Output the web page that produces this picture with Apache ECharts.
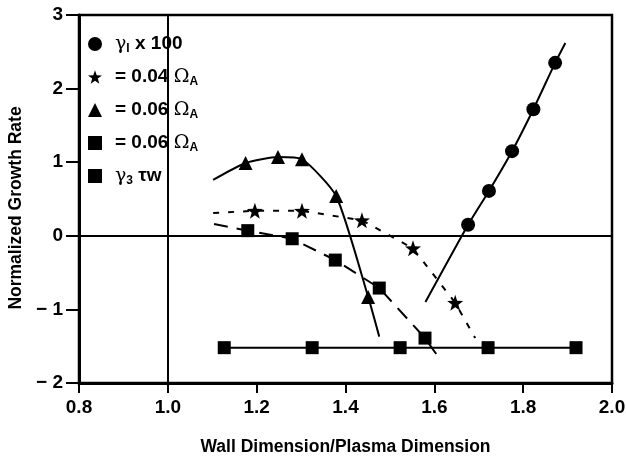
<!DOCTYPE html>
<html>
<head>
<meta charset="utf-8">
<script src="https://cdn.jsdelivr.net/npm/echarts@6/dist/echarts.min.js"></script>
<style>html,body{margin:0;padding:0;background:#fff;}#c{width:626px;height:466px;}</style>
</head>
<body>
<div id="c"></div>
<script>
// ---- data ----
const xTicks = [0.8, 1.0, 1.2, 1.4, 1.6, 1.8, 2.0];
const yTicks = [-2, -1, 0, 1, 2, 3];

const gammaPts = [[1.676, 0.15], [1.723, 0.61], [1.775, 1.15], [1.823, 1.72], [1.872, 2.35]];
const gammaEnds = [[1.580, -0.90], [1.895, 2.62]];

const starPts = [[1.196, 0.34], [1.302, 0.34], [1.437, 0.21], [1.552, -0.17], [1.647, -0.91]];
const starEnds = [[1.102, 0.31], [1.692, -1.39]];

const triPts = [[1.175, 0.99], [1.248, 1.07], [1.302, 1.04], [1.379, 0.54], [1.451, -0.83]];
const triEnds = [[1.102, 0.76], [1.476, -1.37]];

const sqDashPts = [[1.180, 0.07], [1.280, -0.04], [1.377, -0.33], [1.476, -0.71], [1.579, -1.39]];
const sqDashEnds = [[1.104, 0.16], [1.606, -1.62]];

const tauPts = [[1.127, -1.52], [1.325, -1.52], [1.523, -1.52], [1.721, -1.52], [1.919, -1.52]];

const refX = 1.0;
const refY = 0;

const legendLabels = {
  gamma: '{g0|γ}{s|I}{n| x 100}',
  star: '{n0|= 0.04 }{g|Ω}{s|A}',
  tri: '{n0|= 0.06 }{g|Ω}{s|A}',
  sqdash: '{n0|= 0.06 }{g|Ω}{s|A}',
  tau: '{g0|γ}{s|3}{n| τw}'
};

// ---- helpers ----
function starPath() {
  let d = '';
  for (let i = 0; i < 10; i++) {
    const r = i % 2 === 0 ? 50 : 20;
    const a = -Math.PI / 2 + i * Math.PI / 5;
    const x = (50 + r * Math.cos(a)).toFixed(2);
    const y = (50 + r * Math.sin(a)).toFixed(2);
    d += (i === 0 ? 'M' : 'L') + x + ',' + y;
  }
  return 'path://' + d + 'Z';
}
const STAR = starPath();

function build(pts, ends) {
  const out = pts.map(p => ({ value: p }));
  if (ends) {
    out.unshift({ value: ends[0], symbol: 'none' });
    out.push({ value: ends[1], symbol: 'none' });
  }
  return out;
}

const FONT = "'Liberation Sans', Arial, Helvetica, sans-serif";
const GREEK = "'DejaVu Serif', 'Liberation Serif', serif";

const chart = echarts.init(document.getElementById('c'), null, { renderer: 'canvas' });

const lineBase = { color: '#000', width: 2 };
const nStyle = { fontFamily: FONT, fontWeight: 'bold', fontSize: 19, color: '#000', lineHeight: 22 };
const gStyle = { fontFamily: GREEK, fontSize: 19, color: '#000', lineHeight: 22 };

chart.setOption({
  animation: false,
  backgroundColor: '#fff',
  grid: { left: 79, right: 14, top: 15, bottom: 83, containLabel: false, outerBoundsMode: 'none',
    show: true, borderColor: '#000', borderWidth: 2.5, backgroundColor: 'transparent' },
  xAxis: {
    type: 'value', min: 0.8, max: 2.0, interval: 0.2,
    name: 'Wall Dimension/Plasma Dimension', nameLocation: 'middle', nameGap: 55,
    nameTextStyle: { fontFamily: FONT, fontWeight: 'bold', fontSize: 17.5, color: '#000' },
    axisLine: { show: true, onZero: false, lineStyle: { color: '#000', width: 3 } },
    axisTick: { show: true, inside: false, length: 10, lineStyle: { color: '#000', width: 2 } },
    axisLabel: { fontFamily: FONT, fontWeight: 'bold', fontSize: 19, color: '#000', margin: 15,
      formatter: v => xTicks.some(t => Math.abs(t - v) < 1e-6) ? v.toFixed(1) : '' },
    splitLine: { show: false }
  },
  yAxis: {
    type: 'value', min: -2, max: 3, interval: 1,
    name: 'Normalized Growth Rate', nameLocation: 'middle', nameGap: 54,
    nameTextStyle: { fontFamily: FONT, fontWeight: 'bold', fontSize: 17.5, color: '#000', padding: [0, 18, 0, 0] },
    axisLine: { show: true, onZero: false, lineStyle: { color: '#000', width: 3 } },
    axisTick: { show: true, inside: false, length: 13, lineStyle: { color: '#000', width: 2 } },
    axisLabel: { fontFamily: FONT, fontWeight: 'bold', fontSize: 19, color: '#000', margin: 16,
      formatter: v => yTicks.includes(v) ? (v < 0 ? '− ' + Math.abs(v) : String(v)) : '' },
    splitLine: { show: false }
  },
  legend: {
    orient: 'vertical', left: 83, top: 29, itemGap: 12, itemWidth: 14, itemHeight: 14,
    selectedMode: false,
    data: [
      { name: 'gamma', icon: 'circle' },
      { name: 'star', icon: STAR },
      { name: 'tri', icon: 'triangle' },
      { name: 'sqdash', icon: 'rect' },
      { name: 'tau', icon: 'rect' }
    ],
    formatter: n => legendLabels[n],
    textStyle: {
      color: '#000',
      rich: {
        n: nStyle,
        n0: Object.assign({}, nStyle, { padding: [0, 0, 0, 8] }),
        g: gStyle,
        g0: Object.assign({}, gStyle, { padding: [0, 0, 0, 8] }),
        s: { fontFamily: FONT, fontWeight: 'bold', fontSize: 12, color: '#000', lineHeight: 22, verticalAlign: 'bottom', padding: [9, 0, 0, 0] }
      }
    },
    itemStyle: { color: '#000', borderWidth: 0 }
  },
  series: [
    {
      name: 'gamma', type: 'line', data: build(gammaPts, gammaEnds), smooth: 0.2,
      symbol: 'circle', symbolSize: 14, showAllSymbol: true,
      lineStyle: lineBase, itemStyle: { color: '#000' }, z: 3,
      markLine: {
        silent: true, symbol: 'none', animation: false,
        label: { show: false },
        lineStyle: { color: '#000', width: 2, type: 'solid' },
        data: [{ xAxis: refX }, { yAxis: refY }]
      }
    },
    {
      name: 'star', type: 'line', data: build(starPts, starEnds), smooth: false,
      symbol: STAR, symbolSize: 16, showAllSymbol: true,
      lineStyle: Object.assign({}, lineBase, { type: [6, 9] }), itemStyle: { color: '#000' }, z: 3
    },
    {
      name: 'tri', type: 'line', data: build(triPts, triEnds), smooth: 0.2,
      symbol: 'triangle', symbolSize: 14, showAllSymbol: true,
      lineStyle: lineBase, itemStyle: { color: '#000' }, z: 3
    },
    {
      name: 'sqdash', type: 'line', data: build(sqDashPts, sqDashEnds), smooth: false,
      symbol: 'rect', symbolSize: 13, showAllSymbol: true,
      lineStyle: Object.assign({}, lineBase, { type: [14, 9] }), itemStyle: { color: '#000' }, z: 3
    },
    {
      name: 'tau', type: 'line', data: build(tauPts), smooth: false,
      symbol: 'rect', symbolSize: 13, showAllSymbol: true,
      lineStyle: lineBase, itemStyle: { color: '#000' }, z: 3
    }
  ]
});
</script>
</body>
</html>
